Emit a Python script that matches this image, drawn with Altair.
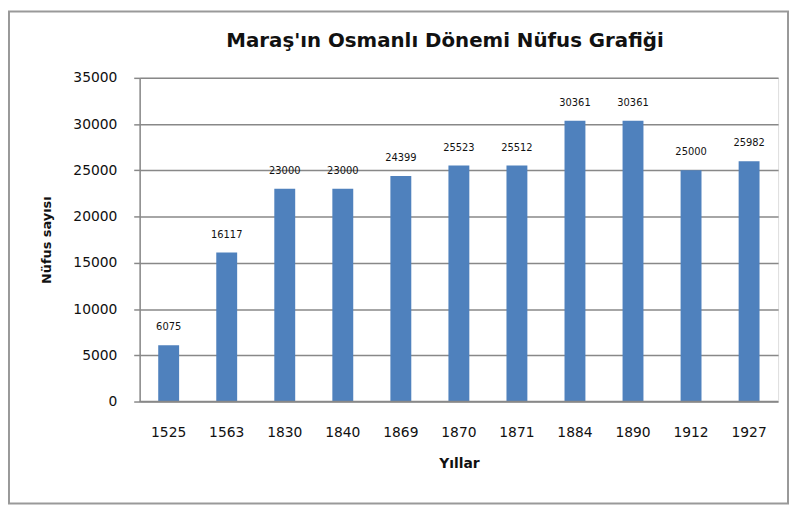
import altair as alt
import pandas as pd

years = ["1525", "1563", "1830", "1840", "1869", "1870", "1871", "1884", "1890", "1912", "1927"]
population = [6075, 16117, 23000, 23000, 24399, 25523, 25512, 30361, 30361, 25000, 25982]

df = pd.DataFrame({"year": years, "pop": population})

W, H = 645, 327
PL, PT, PR, PB = 133, 68, 11, 105
FONT = "DejaVu Sans"

base = alt.Chart(df)

bars = base.mark_bar(color="#4F81BD").encode(
    x=alt.X("year:N", sort=years, title="Yıllar",
            scale=alt.Scale(paddingInner=0.64, paddingOuter=0.32),
            axis=alt.Axis(labelAngle=0, ticks=False, domain=False, labelPadding=24,
                          labelFontSize=14, labelFont=FONT, labelColor="#111",
                          titleFontSize=14, titleFont=FONT, titleFontWeight="bold",
                          titlePadding=18, titleColor="#111")),
    y=alt.Y("pop:Q", title="Nüfus sayısı",
            scale=alt.Scale(domain=[0, 35000]),
            axis=alt.Axis(values=list(range(0, 35001, 5000)), format="d",
                          tickSize=6, tickColor="#888", tickWidth=1.5,
                          domainColor="#888", domainWidth=1.5,
                          gridColor="#888", gridWidth=1.5,
                          labelPadding=17, labelFontSize=14, labelFont=FONT,
                          labelColor="#111",
                          titleFontSize=13, titleFont=FONT, titleFontWeight="bold",
                          titlePadding=20, titleColor="#111")),
)

labels = base.mark_text(baseline="bottom", dy=-13, fontSize=10, font=FONT,
                        color="#111").encode(
    x=alt.X("year:N", sort=years),
    y="pop:Q",
    text="pop:Q",
)

xaxis_line = alt.Chart(pd.DataFrame({"v": [0]})).mark_rule(color="#888", strokeWidth=1.5).encode(
    y=alt.Y("v:Q"),
    x=alt.value(0), x2=alt.value(W),
)

border = alt.Chart(pd.DataFrame({"v": [0]})).mark_rect(
    fill=None, stroke="#999", strokeWidth=2
).encode(
    x=alt.value(-PL + 1), x2=alt.value(W + PR - 1),
    y=alt.value(-PT + 1), y2=alt.value(H + PB - 2),
)

chart = alt.layer(bars, labels, xaxis_line, border).properties(
    width=W, height=H,
    autosize=alt.AutoSizeParams(type="none"),
    padding={"left": PL, "top": PT, "right": PR, "bottom": PB},
    title=alt.TitleParams("Maraş'ın Osmanlı Dönemi Nüfus Grafiği", fontSize=20,
                          font=FONT, fontWeight="bold", color="#111",
                          anchor="middle", dx=-14, offset=-41),
).configure_view(stroke=None).configure(background="white")

chart.save("out.html", embed_options={"renderer": "svg", "actions": False})
